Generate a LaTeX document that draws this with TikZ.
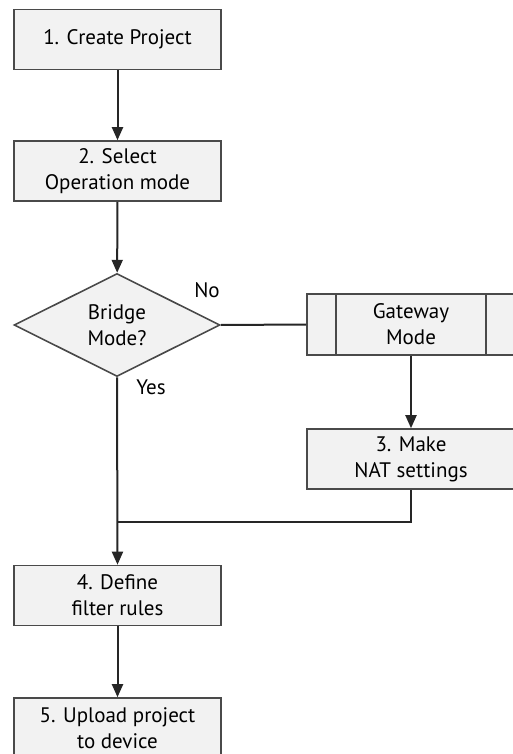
\documentclass[tikz,border=0pt]{standalone}
\usepackage{fontspec}
\setmainfont{PT Sans}
\usepackage{tikz}
\usetikzlibrary{arrows.meta}
\usetikzlibrary{shapes.geometric}

\definecolor{boxfill}{HTML}{F2F2F2}
\definecolor{boxline}{HTML}{4A4A4A}

\tikzset{
  stepbox/.style={draw=boxline, fill=boxfill, line width=1.6pt, minimum width=207pt,
    minimum height=60pt, inner sep=0pt, align=center, font=\fontsize{21}{26}\selectfont},
  decision/.style={draw=boxline, fill=boxfill, line width=1.6pt, shape=diamond, aspect=2,
    minimum width=206pt, minimum height=103pt, inner sep=0pt, align=center,
    font=\fontsize{21}{26}\selectfont},
  answer/.style={font=\fontsize{21}{26}\selectfont},
  flow/.style={line width=2pt, draw=black!85},
  arr/.style={flow, -{Triangle[length=13pt,width=11pt]}}
}

\begin{document}
\begin{tikzpicture}[x=1pt,y=-1pt]
\useasboundingbox (0,0) rectangle (513,754);
\node[stepbox] (create) at (117.5,39.5) {1. Create Project};
\node[stepbox] (select) at (117.5,171) {2. Select\\Operation mode};
\node[decision] (bridge) at (117,325) {Bridge\\Mode?};
\node[stepbox, minimum width=208pt, minimum height=61pt] (gateway) at (411,324.5) {Gateway\\Mode};
\draw[boxline, line width=1.6pt] ([xshift=30pt]gateway.north west) -- ([xshift=30pt]gateway.south west);
\draw[boxline, line width=1.6pt] ([xshift=-30pt]gateway.north east) -- ([xshift=-30pt]gateway.south east);
\node[stepbox, minimum width=208pt] (nat) at (411,459) {3. Make\\NAT settings};
\node[stepbox] (filter) at (117.5,595.5) {4. Define\\filter rules};
\node[stepbox] (upload) at (117.5,728) {5. Upload project\\to device};
\node[answer] (no) at (207,290) {No};
\node[answer] (yes) at (151,387) {Yes};
\coordinate (join) at (118,522);

\draw[arr] (create) -- (select);
\draw[arr] (select) -- (bridge);
\draw[flow] (bridge.east) -- (gateway.west);
\draw[arr] (gateway) -- (nat);
\draw[flow] (nat.south) |- (join);
\draw[arr] (bridge.south) -- (filter.north);
\draw[arr] (filter) -- (upload);
\end{tikzpicture}
\end{document}
